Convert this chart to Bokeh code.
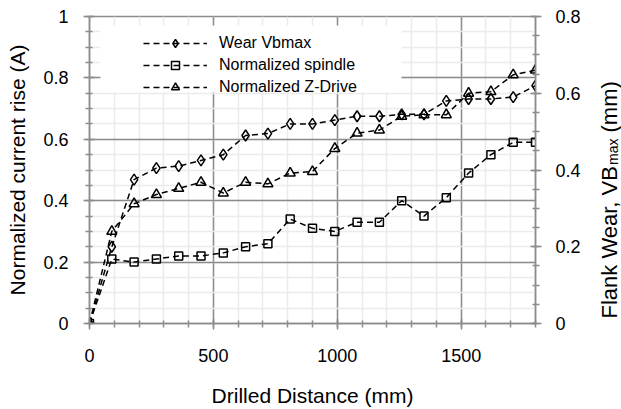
import math
from bokeh.plotting import figure
from bokeh.layouts import row
from bokeh.models import (Range1d, LinearAxis, SingleIntervalTicker, NumeralTickFormatter,
                          Legend, LegendItem, BoxAnnotation)
from bokeh.core.properties import value
from bokeh.embed import file_html
from bokeh.resources import INLINE

# ---------------- data ----------------
distance = [0, 90, 180, 270, 360, 450, 540, 630, 720, 810, 900,
            990, 1080, 1170, 1260, 1350, 1440, 1530, 1620, 1710, 1800]
wear_vbmax_mm = [0, 0.20, 0.375, 0.405, 0.41, 0.425, 0.44, 0.49, 0.495, 0.52, 0.52,
                 0.53, 0.54, 0.54, 0.545, 0.545, 0.58, 0.585, 0.585, 0.59, 0.62]
norm_spindle = [0, 0.21, 0.20, 0.21, 0.22, 0.22, 0.23, 0.25, 0.26, 0.34, 0.31,
                0.30, 0.33, 0.33, 0.40, 0.35, 0.41, 0.49, 0.55, 0.59, 0.59]
norm_zdrive = [0, 0.30, 0.39, 0.42, 0.44, 0.46, 0.425, 0.46, 0.455, 0.49, 0.495,
               0.57, 0.62, 0.63, 0.675, 0.68, 0.68, 0.75, 0.755, 0.81, 0.825]

series_names = ["Wear Vbmax", "Normalized spindle", "Normalized Z-Drive"]
x_title = "Drilled Distance (mm)"
y_left_title = "Normalized current rise (A)"
y_right_parts = ["Flank Wear, VB", "max", "(mm)"]

# ---------------- style ----------------
FONT = "Liberation Sans"
GRID_MAJOR = "#8c8c8c"
GRID_MINOR = "#ebebeb"
DASH = "6 4"

W, H = 585, 409          # main chart
W2 = 621 - W             # strip holding the right-hand title
BL, BR, BT, BB = 89, W - 535, 16, 85
X0, X1 = 0, 1800
YL0, YL1 = 0, 1.0
YR0, YR1 = 0, 0.8

p = figure(width=W, height=H, output_backend="svg", toolbar_location=None,
           x_range=Range1d(X0, X1), y_range=Range1d(YL0, YL1),
           min_border_left=BL, min_border_right=BR, min_border_top=BT, min_border_bottom=BB)
p.extra_y_ranges = {"wear": Range1d(YR0, YR1)}
p.background_fill_color = "white"
p.border_fill_color = "white"
p.outline_line_color = GRID_MAJOR
p.outline_line_width = 1.5

# axes
p.xaxis.ticker = SingleIntervalTicker(interval=500, num_minor_ticks=5)
p.yaxis.ticker = SingleIntervalTicker(interval=0.2, num_minor_ticks=4)
p.yaxis.formatter = NumeralTickFormatter(format="0.[0]")
p.xaxis.axis_label = x_title
p.yaxis.axis_label = y_left_title

right_axis = LinearAxis(y_range_name="wear",
                        ticker=SingleIntervalTicker(interval=0.2, num_minor_ticks=4),
                        formatter=NumeralTickFormatter(format="0.[0]"))
p.add_layout(right_axis, "right")

for ax in [p.xaxis[0], p.yaxis[0], right_axis]:
    ax.axis_line_color = GRID_MAJOR
    ax.axis_line_width = 1.5
    ax.major_tick_line_color = GRID_MAJOR
    ax.major_tick_line_width = 1.5
    ax.minor_tick_line_color = GRID_MAJOR
    ax.minor_tick_line_width = 1.5
    ax.major_tick_out = 6
    ax.major_tick_in = 5
    ax.minor_tick_out = 4
    ax.minor_tick_in = 3
    ax.major_label_text_font = FONT
    ax.major_label_text_font_size = "18px"
    ax.major_label_text_color = "black"
    ax.axis_label_text_font = FONT
    ax.axis_label_text_font_size = "21px"
    ax.axis_label_text_font_style = "normal"
    ax.axis_label_text_color = "black"

p.xaxis.major_label_standoff = 19
p.xaxis.axis_label_standoff = 19
p.yaxis.major_label_standoff = 15
p.yaxis.axis_label_standoff = 11
right_axis.major_label_standoff = 14

# grids
for g in [p.xgrid[0], p.ygrid[0]]:
    g.grid_line_color = GRID_MAJOR
    g.grid_line_width = 1.5
    g.minor_grid_line_color = GRID_MINOR
    g.minor_grid_line_width = 1.5

# helpers: pixel -> data
def px_x(px):
    return X0 + (px - BL) * (X1 - X0) / (W - BL - BR)

def px_y(py):
    return YL0 + (H - BB - py) * (YL1 - YL0) / (H - BT - BB)

# legend backdrop
p.add_layout(BoxAnnotation(left=px_x(100), right=px_x(401), top=px_y(25), bottom=px_y(92),
                           fill_color="white", fill_alpha=1, line_color=None, level="underlay"))

# series
common = dict(line_color="black", line_width=1.5)
l1 = p.line(distance, wear_vbmax_mm, y_range_name="wear", line_dash=DASH, **common)
m1 = p.scatter(distance, wear_vbmax_mm, y_range_name="wear", marker="diamond",
               size=11, fill_color=None, **common)
l2 = p.line(distance, norm_spindle, line_dash=DASH, **common)
m2 = p.scatter(distance, norm_spindle, marker="square", size=8, fill_color=None, **common)
l3 = p.line(distance, norm_zdrive, line_dash=DASH, **common)
m3 = p.scatter(distance, norm_zdrive, marker="triangle", size=10, fill_color=None, **common)

legend = Legend(items=[LegendItem(label=series_names[0], renderers=[l1, m1]),
                       LegendItem(label=series_names[1], renderers=[l2, m2]),
                       LegendItem(label=series_names[2], renderers=[l3, m3])],
                location=(54, 226), margin=0, padding=5, spacing=2,
                glyph_width=64, glyph_height=20, label_height=20, label_standoff=12,
                label_text_font=FONT, label_text_font_size="16px", label_text_color="black",
                background_fill_alpha=0, border_line_color=None)
p.add_layout(legend)

# ---------------- right-hand title strip (reads bottom to top, with subscript) ----------------
# In a row the strip's frame is aligned with the main frame (BT..H-BB), so its y-range is set
# such that a data value equals (H - pixel row from the top).
p2 = figure(width=W2, height=H, output_backend="svg", toolbar_location=None,
            x_range=Range1d(0, W2), y_range=Range1d(BB, H - BT),
            x_axis_type=None, y_axis_type=None,
            min_border_left=0, min_border_right=0, min_border_top=BT, min_border_bottom=BB)
p2.outline_line_color = None
p2.background_fill_color = "white"
p2.border_fill_color = "white"
p2.grid.visible = False

fs_main, fs_sub = 22, 14
w_main = 7.002 * fs_main      # Arial-metric width of "Flank Wear, VB"
w_sub = 1.889 * fs_sub        # width of "max"
w_space = 0.278 * fs_main     # a space before "(mm)"
start_px = 319                # bottom end of the title, px from top
mid_main = 608.8 - W          # centre line of the main text, px from strip's left edge
mid_sub = 612.6 - W

p2.text(x=[mid_main], y=[H - start_px], text=[y_right_parts[0]], angle=math.pi / 2,
        text_align="left", text_baseline="middle", text_font=value(FONT),
        text_font_size=value(f"{fs_main}px"), text_color="black")
p2.text(x=[mid_sub], y=[H - start_px + w_main], text=[y_right_parts[1]], angle=math.pi / 2,
        text_align="left", text_baseline="middle", text_font=value(FONT),
        text_font_size=value(f"{fs_sub}px"), text_color="black")
p2.text(x=[mid_main], y=[H - start_px + w_main + w_sub + w_space], text=[y_right_parts[2]],
        angle=math.pi / 2, text_align="left", text_baseline="middle", text_font=value(FONT),
        text_font_size=value(f"{fs_main}px"), text_color="black")

layout = row(p, p2)
open("out.html", "w").write(file_html(layout, INLINE))
